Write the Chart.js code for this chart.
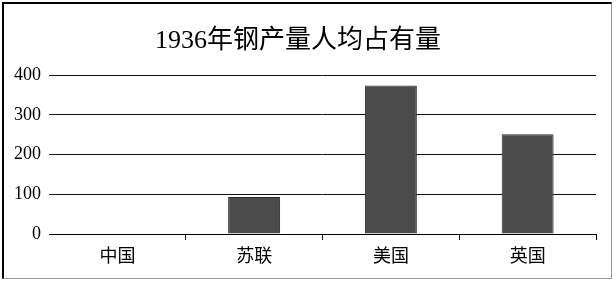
<!DOCTYPE html>
<html>
<head>
<meta charset="utf-8">
<script src="https://cdn.jsdelivr.net/npm/chart.js@4"></script>
<style>
  html, body { margin: 0; padding: 0; background: #fff; }
  #wrap { position: relative; width: 616px; height: 281px; }
  #chart { position: absolute; left: 0; top: 0; }
  #frame {
    position: absolute; left: 2px; top: 2px; width: 607px; height: 274px;
    border-left: 2px solid #000; border-top: 2px solid #000;
    border-right: 1px solid #999; border-bottom: 1px solid #999;
    pointer-events: none;
  }
</style>
</head>
<body>
<div id="wrap">
  <canvas id="chart" width="616" height="281"></canvas>
  <div id="frame"></div>
</div>
<script>
// 1936年钢产量人均占有量 — simple bar chart

const countries = ['中国', '苏联', '美国', '英国'];
const perCapita = [0, 93, 374, 251];
const yTicks = [0, 100, 200, 300, 400];

const serif = '"Liberation Serif", "Noto Sans CJK SC", serif';

new Chart(document.getElementById('chart'), {
  type: 'bar',
  data: {
    labels: countries,
    datasets: [{
      data: perCapita,
      backgroundColor: '#4b4b4b',
      borderColor: '#2b2b2b',
      borderWidth: 1,
      categoryPercentage: 1,
      barPercentage: 0.38,
    }],
  },
  options: {
    responsive: false,
    animation: false,
    devicePixelRatio: 1,
    layout: { padding: { left: 0, right: 20, top: 0, bottom: 0 } },
    plugins: {
      legend: { display: false },
      tooltip: { enabled: false },
      title: {
        display: true,
        text: '1936年钢产量人均占有量',
        color: '#000',
        font: { family: serif, size: 26, weight: 'normal', lineHeight: 1.2 },
        padding: { top: 26, bottom: 18 },
      },
    },
    scales: {
      x: {
        afterFit: (s) => { s.height = 47; },
        border: { display: true, color: '#000', width: 1 },
        grid: {
          offset: true,
          drawOnChartArea: false,
          drawTicks: true,
          tickLength: 6,
          color: (ctx) => (ctx.index === 0 ? 'rgba(0,0,0,0)' : '#000'),
        },
        ticks: { color: '#000', padding: 6, font: { family: serif, size: 18 } },
      },
      y: {
        min: 0,
        max: 400,
        afterFit: (s) => { s.width = 49; },
        afterBuildTicks: (s) => { s.ticks = yTicks.map(v => ({ value: v })); },
        border: { display: false },
        grid: { color: '#111', lineWidth: 1, drawTicks: false },
        ticks: { color: '#000', padding: 8, font: { family: serif, size: 18 } },
      },
    },
  },
});
</script>
</body>
</html>
